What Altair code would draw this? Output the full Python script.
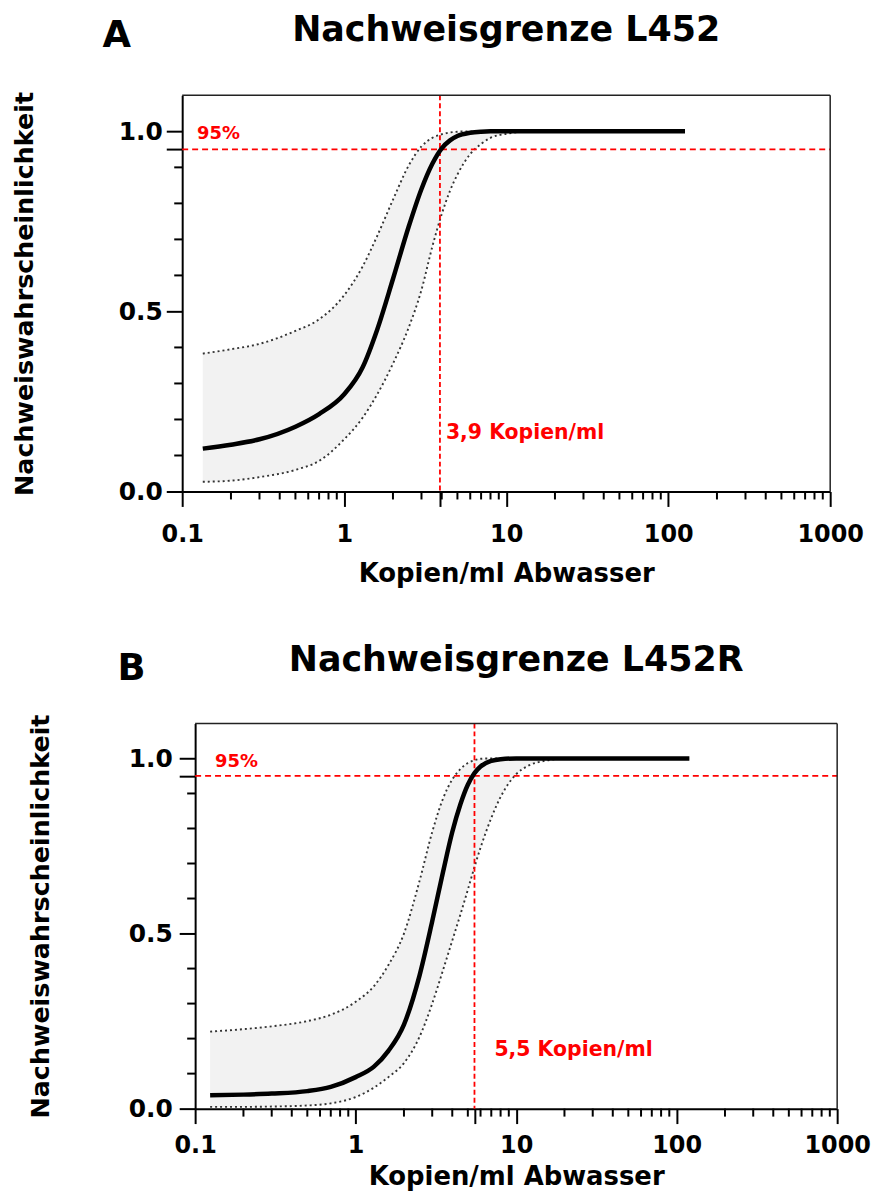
import altair as alt
import pandas as pd

FONT = "DejaVu Sans"
RED = "#ff0000"

# ---------------- Panel A : L452 ----------------
a_title = "Nachweisgrenze L452"
a_letter = "A"
a_lod = 3.9
a_lod_text = "3,9 Kopien/ml"
a_x = [0.134, 0.2, 0.3, 0.5, 0.7, 1.0, 1.3, 1.6, 2.0, 2.5, 3.0, 3.5, 4.0, 4.5, 5.0,
       6.0, 7.0, 8.0, 10, 12, 15, 20, 30, 50, 80, 127]
a_mid = [0.119, 0.13, 0.145, 0.18, 0.215, 0.27, 0.345, 0.45, 0.59, 0.735, 0.84, 0.91,
         0.953, 0.975, 0.987, 0.996, 0.999, 1, 1, 1, 1, 1, 1, 1, 1, 1]
a_low = [0.027, 0.03, 0.04, 0.06, 0.085, 0.145, 0.205, 0.27, 0.355, 0.455, 0.56, 0.68,
         0.77, 0.835, 0.88, 0.937, 0.965, 0.982, 0.993, 0.998, 1, 1, 1, 1, 1, 1]
a_up = [0.383, 0.395, 0.41, 0.446, 0.478, 0.545, 0.625, 0.71, 0.81, 0.905, 0.958, 0.982,
        0.992, 0.997, 0.999, 1, 1, 1, 1, 1, 1, 1, 1, 1, 1, 1]

# ---------------- Panel B : L452R ----------------
b_title = "Nachweisgrenze L452R"
b_letter = "B"
b_lod = 5.5
b_lod_text = "5,5 Kopien/ml"
b_x = [0.124, 0.2, 0.3, 0.5, 0.7, 1.0, 1.3, 1.6, 2.0, 2.5, 3.0, 3.5, 4.0, 4.5, 5.0,
       5.5, 6.0, 7.0, 8.0, 10, 12, 15, 20, 30, 50, 80, 120]
b_mid = [0.038, 0.04, 0.043, 0.05, 0.062, 0.09, 0.12, 0.165, 0.24, 0.38, 0.535, 0.675,
         0.79, 0.87, 0.925, 0.958, 0.977, 0.993, 0.998, 1, 1, 1, 1, 1, 1, 1, 1]
b_low = [0.005, 0.005, 0.006, 0.009, 0.015, 0.033, 0.06, 0.09, 0.13, 0.205, 0.3, 0.395,
         0.48, 0.555, 0.625, 0.69, 0.745, 0.83, 0.89, 0.955, 0.98, 0.993, 0.999, 1, 1, 1, 1]
b_up = [0.22, 0.227, 0.235, 0.25, 0.268, 0.305, 0.35, 0.41, 0.50, 0.65, 0.79, 0.885,
        0.94, 0.97, 0.987, 0.995, 0.999, 1, 1, 1, 1, 1, 1, 1, 1, 1, 1]

# ---------------- shared ----------------
prob_level = 0.95
prob_text = "95%"
x_title = "Kopien/ml Abwasser"
y_title = "Nachweiswahrscheinlichkeit"
x_major = [0.1, 1, 10, 100, 1000]
x_minor = [0.2, 0.3, 0.4, 0.5, 0.6, 0.7, 0.8, 0.9,
           2, 3, 4, 5, 6, 7, 8, 9,
           20, 30, 40, 50, 60, 70, 80, 90,
           200, 300, 400, 500, 600, 700, 800, 900]
y_major = [0.0, 0.5, 1.0]
y_minor = [0.1, 0.2, 0.3, 0.4, 0.6, 0.7, 0.8, 0.9]


def panel(xs, mid, low, up, lod, lod_text, title, letter, g):
    W, H, x0 = g["W"], g["H"], g["x0"]
    df = pd.DataFrame({"x": xs, "mid": mid, "low": low, "up": up})
    xsc = alt.Scale(type="log", domain=[0.1, 1000], range=[x0, W])
    ysc = alt.Scale(domain=[0, 1.1], nice=False, zero=False)

    xaxis = alt.Axis(
        values=x_major + [lod], tickSize=15, tickWidth=2, tickColor="black",
        domainColor="black", domainWidth=2, grid=False,
        labelExpr=f"datum.value == {lod} ? '' : format(datum.value, '~g')",
        labelFont=FONT, labelFontWeight="bold", labelFontSize=24, labelColor="black",
        labelPadding=g["xlabpad"], labelBaseline="alphabetic", labelFlush=False,
        labelOverlap=False,
        title=x_title, titleFont=FONT, titleFontSize=26, titleFontWeight="bold",
        titleColor="black", titleBaseline="alphabetic", titleY=g["xtitley"],
        titleX=(x0 + W) / 2,
    )
    yaxis = alt.Axis(
        values=y_major + [prob_level], tickSize=16, tickWidth=2, tickColor="black",
        domainColor="black", domainWidth=2, grid=False, offset=-x0,
        labelExpr="datum.value == 0.95 ? '' : format(datum.value, '.1f')",
        labelFont=FONT, labelFontWeight="bold", labelFontSize=25, labelColor="black",
        labelPadding=g["ylabpad"], labelFlush=False, labelOverlap=False,
        title=y_title, titleFont=FONT, titleFontSize=25.5, titleFontWeight="bold",
        titleColor="black", titleBaseline="alphabetic", titleAngle=270,
        titleX=g["ytitlex"], titleY=H / 2, titleAlign="center",
    )

    def X(f):
        return alt.X(f, scale=xsc, axis=xaxis)

    def Y(f):
        return alt.Y(f, scale=ysc, axis=yaxis)

    band = alt.Chart(df).mark_area(color="#f2f2f2", interpolate="monotone").encode(
        x=X("x:Q"), y=Y("low:Q"), y2="up:Q")
    dotted = dict(strokeDash=[2, 3], color="#333333", strokeWidth=1.9, interpolate="monotone")
    low_line = alt.Chart(df).mark_line(**dotted).encode(x=X("x:Q"), y=Y("low:Q"))
    up_line = alt.Chart(df).mark_line(**dotted).encode(x=X("x:Q"), y=Y("up:Q"))
    mid_line = alt.Chart(df).mark_line(color="black", strokeWidth=4.5,
                                       interpolate="monotone").encode(x=X("x:Q"), y=Y("mid:Q"))

    xm = alt.Chart(pd.DataFrame({"x": x_minor})).mark_rule(color="black", strokeWidth=2).encode(
        x=X("x:Q"), y=alt.value(H), y2=alt.value(H + 8))
    ym = alt.Chart(pd.DataFrame({"y": y_minor})).mark_rule(color="black", strokeWidth=2).encode(
        y=Y("y:Q"), x=alt.value(x0 - 8), x2=alt.value(x0))

    # frame (top and right edges of the plot box)
    ftop = alt.Chart(pd.DataFrame({"k": [0]})).mark_rule(color="#222222", strokeWidth=1.5).encode(
        x=alt.value(x0), x2=alt.value(W), y=alt.value(0))
    fright = alt.Chart(pd.DataFrame({"k": [0]})).mark_rule(color="#222222", strokeWidth=1.5).encode(
        x=alt.value(W), y=alt.value(0), y2=alt.value(H))

    hline = alt.Chart(pd.DataFrame({"y": [prob_level]})).mark_rule(
        color=RED, strokeDash=[6, 4], strokeWidth=1.8).encode(
        y=Y("y:Q"), x=alt.value(x0), x2=alt.value(W))
    vline = alt.Chart(pd.DataFrame({"x": [lod]})).mark_rule(
        color=RED, strokeDash=[5, 3], strokeWidth=1.8).encode(
        x=X("x:Q"), y=alt.value(0), y2=alt.value(H))

    ptxt = alt.Chart(pd.DataFrame({"y": [prob_level], "t": [prob_text]})).mark_text(
        align="left", baseline="alphabetic", dy=g["pdy"], font=FONT, fontWeight="bold",
        fontSize=18, color=RED).encode(y=Y("y:Q"), x=alt.value(x0 + g["px"]), text="t:N")
    ltxt = alt.Chart(pd.DataFrame({"x": [lod], "t": [lod_text]})).mark_text(
        align="left", baseline="alphabetic", dx=g["ldx"], font=FONT, fontWeight="bold",
        fontSize=20.5, color=RED).encode(x=X("x:Q"), y=alt.value(g["ly"]), text="t:N")

    ttl = alt.Chart(pd.DataFrame({"t": [title]})).mark_text(
        align="center", baseline="alphabetic", font=FONT, fontWeight="bold",
        fontSize=35, color="black").encode(
        x=alt.value((x0 + W) / 2), y=alt.value(g["ty"]), text="t:N")
    let = alt.Chart(pd.DataFrame({"t": [letter]})).mark_text(
        align="left", baseline="alphabetic", font=FONT, fontWeight="bold",
        fontSize=37, color="black").encode(
        x=alt.value(g["lx"]), y=alt.value(g["lety"]), text="t:N")

    return alt.layer(band, low_line, up_line, hline, vline, mid_line, xm, ym,
                     ftop, fright, ptxt, ltxt, ttl, let).properties(width=W, height=H)


geoA = dict(W=651, H=398, x0=0, xlabpad=35, xtitley=90, ylabpad=4, ytitlex=-150,
            pdy=-10, px=15, ldx=6, ly=345, ty=-55, lx=-80, lety=-49)
geoB = dict(W=658, H=387, x0=13, xlabpad=29, xtitley=76, ylabpad=7, ytitlex=-147,
            pdy=-9, px=20, ldx=20, ly=334, ty=-53, lx=-65, lety=-44)

chartA = panel(a_x, a_mid, a_low, a_up, a_lod, a_lod_text, a_title, a_letter, geoA)
chartB = panel(b_x, b_mid, b_low, b_up, b_lod, b_lod_text, b_title, b_letter, geoB)

chart = alt.vconcat(chartA, chartB, spacing=57).properties(
    padding={"left": 5, "top": 2, "right": 0, "bottom": 0},
    background="white",
).configure_view(strokeWidth=0)

chart.save("out.html", embed_options={"renderer": "svg", "actions": False})
